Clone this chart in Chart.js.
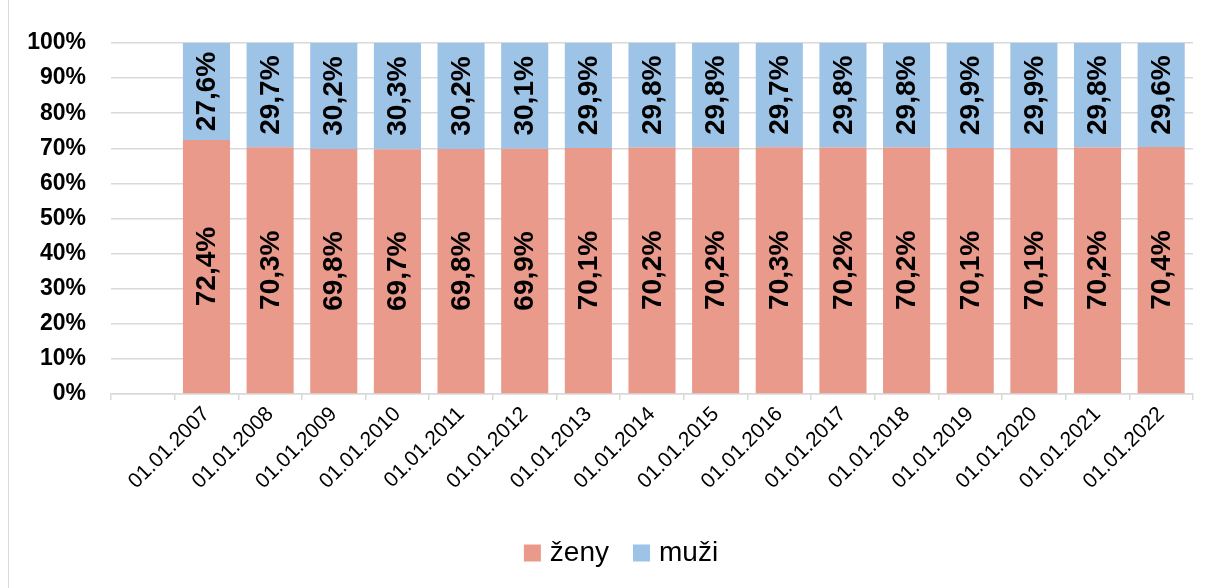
<!DOCTYPE html>
<html>
<head>
<meta charset="utf-8">
<script src="https://cdn.jsdelivr.net/npm/chart.js@4/dist/chart.umd.min.js"></script>
<style>
  html, body { margin: 0; padding: 0; background: #fff; }
  #obal { position: relative; width: 1210px; height: 588px; }
  #obal:before { content: ''; position: absolute; left: 8px; top: 0; bottom: 0; border-left: 1px solid #d9d9d9; }
  canvas { display: block; }
</style>
</head>
<body>
<div id="obal"><canvas id="graf" width="1210" height="588"></canvas></div>
<script>
// kategorie (první prázdná jako v originále)
const kategorie = ['', '01.01.2007', '01.01.2008', '01.01.2009', '01.01.2010', '01.01.2011', '01.01.2012',
  '01.01.2013', '01.01.2014', '01.01.2015', '01.01.2016', '01.01.2017', '01.01.2018',
  '01.01.2019', '01.01.2020', '01.01.2021', '01.01.2022'];
const zeny = [null, 72.4, 70.3, 69.8, 69.7, 69.8, 69.9, 70.1, 70.2, 70.2, 70.3, 70.2, 70.2, 70.1, 70.1, 70.2, 70.4];
const muzi = [null, 27.6, 29.7, 30.2, 30.3, 30.2, 30.1, 29.9, 29.8, 29.8, 29.7, 29.8, 29.8, 29.9, 29.9, 29.8, 29.6];
const osaY = [0, 10, 20, 30, 40, 50, 60, 70, 80, 90, 100];

const pismo = '"Liberation Sans", Arial, sans-serif';

// popisky hodnot otočené o 90°
const popisky = {
  id: 'popisky',
  afterDatasetsDraw(chart) {
    const ctx = chart.ctx;
    ctx.save();
    ctx.font = 'bold 28px ' + pismo;
    ctx.fillStyle = '#000';
    ctx.textAlign = 'center';
    ctx.textBaseline = 'middle';
    chart.data.datasets.forEach((ds, i) => {
      chart.getDatasetMeta(i).data.forEach((bar, j) => {
        const v = ds.data[j];
        if (v == null) return;
        const stred = (bar.y + bar.base) / 2;
        ctx.save();
        ctx.translate(bar.x, stred);
        ctx.rotate(-Math.PI / 2);
        ctx.fillText(v.toFixed(1).replace('.', ',') + '%', 0, 1);
        ctx.restore();
      });
    });
    ctx.restore();
  }
};

// vlastní legenda dole (trochu vpravo od středu jako v originále)
const legenda = {
  id: 'legenda',
  afterDraw(chart) {
    const ctx = chart.ctx;
    const ds = chart.data.datasets;
    ctx.save();
    ctx.font = '28px ' + pismo;
    ctx.textBaseline = 'middle';
    const box = 17, mezera = 9, odstup = 24;
    const sirky = ds.map(d => ctx.measureText(d.label).width);
    const celkem = sirky.reduce((s, w) => s + box + mezera + w, 0) + odstup * (ds.length - 1);
    let x = chart.width / 2 + 16 - celkem / 2;
    const y = 553;
    ds.forEach((d, i) => {
      ctx.fillStyle = d.backgroundColor;
      ctx.fillRect(x, y - box / 2, box, box);
      ctx.fillStyle = '#000';
      ctx.fillText(d.label, x + box + mezera, y);
      x += box + mezera + sirky[i] + odstup;
    });
    ctx.restore();
  }
};

new Chart(document.getElementById('graf'), {
  type: 'bar',
  data: {
    labels: kategorie,
    datasets: [
      { label: 'ženy', data: zeny, backgroundColor: '#ea9a8a', barPercentage: 0.74, categoryPercentage: 1 },
      { label: 'muži', data: muzi, backgroundColor: '#9dc3e6', barPercentage: 0.74, categoryPercentage: 1 }
    ]
  },
  options: {
    responsive: false,
    animation: false,
    layout: { padding: { top: 43, right: 17, left: 20, bottom: 72 } },
    plugins: {
      legend: { display: false },
      tooltip: { enabled: false }
    },
    scales: {
      x: {
        stacked: true,
        grid: { drawOnChartArea: false, color: '#d9d9d9', tickLength: 6, lineWidth: 1.5 },
        border: { color: '#d9d9d9', width: 1.5 },
        ticks: {
          color: '#000',
          font: { family: pismo, size: 21 },
          maxRotation: 45,
          minRotation: 45,
          padding: 2
        },
        afterFit(scale) { scale.height = 122; }
      },
      y: {
        stacked: true,
        min: 0,
        max: 100,
        afterBuildTicks(scale) { scale.ticks = osaY.map(v => ({ value: v })); },
        grid: { color: '#d9d9d9', lineWidth: 1.5, drawTicks: false },
        border: { display: false },
        ticks: {
          color: '#000',
          font: { family: pismo, size: 23, weight: 'bold' },
          padding: 25,
          callback: v => v + '%'
        },
        afterFit(scale) { scale.width = 91; }
      }
    }
  },
  plugins: [popisky, legenda]
});
</script>
</body>
</html>
